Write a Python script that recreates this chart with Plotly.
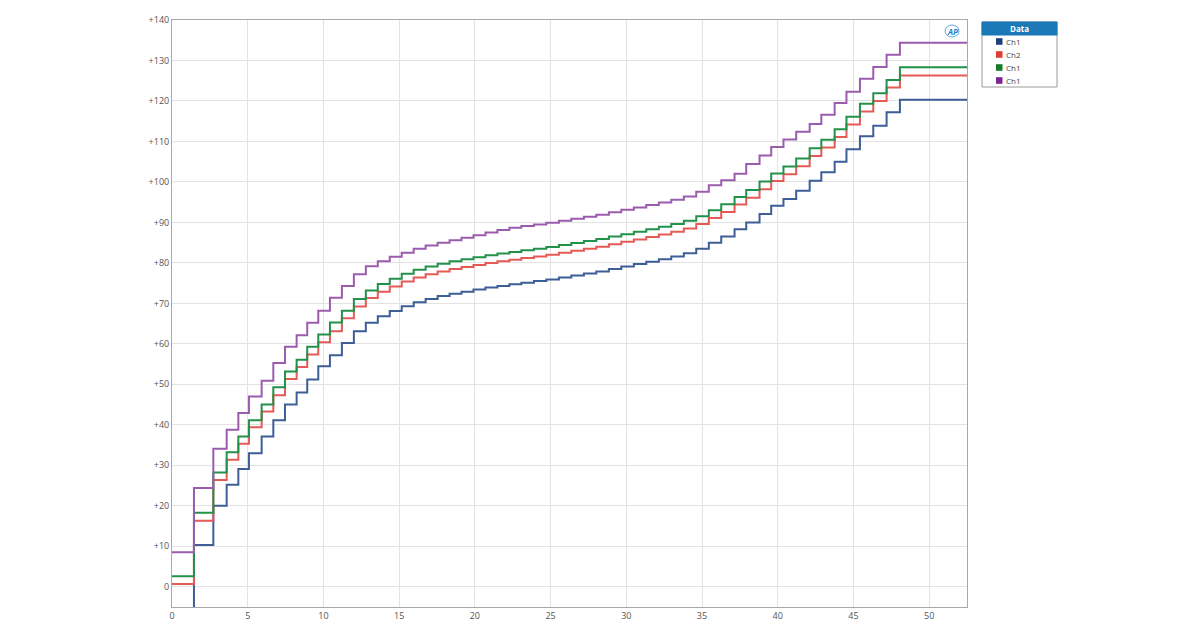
import plotly.graph_objects as go

# ---- data ----
step_times = [0, 1.45, 2.73, 3.61, 4.38, 5.08, 5.92, 6.69, 7.46, 8.23, 8.93, 9.66, 10.43,
              11.22, 12.01, 12.80, 13.59, 14.38, 15.17, 15.96, 16.75, 17.54, 18.33, 19.12,
              19.91, 20.70, 21.49, 22.28, 23.07, 23.90, 24.72, 25.55, 26.37, 27.20, 28.02,
              28.85, 29.67, 30.50, 31.32, 32.15, 32.97, 33.80, 34.62, 35.45, 36.27, 37.15,
              37.92, 38.80, 39.57, 40.38, 41.22, 42.11, 42.88, 43.76, 44.54, 45.43, 46.31,
              47.19, 48.07, 52.5]

ch1_blue = [-7.0, 10.3, 20.0, 25.2, 29.1, 33.0, 37.1, 41.1, 45.0, 48.0, 51.2, 54.5, 57.2,
            60.2, 63.1, 65.2, 66.8, 68.1, 69.3, 70.3, 71.1, 71.8, 72.4, 72.9,
            73.4, 73.9, 74.3, 74.7, 75.1, 75.5, 75.9, 76.4, 76.9, 77.4, 77.9,
            78.5, 79.1, 79.7, 80.3, 80.9, 81.6, 82.4, 83.5, 85.0, 86.5, 88.3,
            90.0, 92.1, 94.1, 95.8, 97.8, 100.3, 102.4, 105.0, 108.1, 111.3, 113.9,
            117.2, 120.3, 120.3]

ch2_red = [0.7, 16.3, 26.4, 31.4, 35.3, 39.4, 43.3, 47.3, 51.3, 54.3, 57.4, 60.4, 63.1,
           66.3, 69.2, 71.3, 72.9, 74.2, 75.4, 76.4, 77.2, 77.9, 78.5, 79.0,
           79.5, 80.0, 80.4, 80.8, 81.2, 81.6, 82.0, 82.5, 83.0, 83.5, 84.0,
           84.6, 85.2, 85.8, 86.4, 87.0, 87.7, 88.5, 89.6, 91.1, 92.6, 94.4,
           96.1, 98.2, 100.2, 101.9, 103.9, 106.4, 108.5, 111.1, 114.2, 117.4, 120.0,
           123.3, 126.3, 126.3]

ch1_green = [2.6, 18.3, 28.2, 33.2, 37.1, 41.1, 45.0, 49.3, 53.2, 56.1, 59.3, 62.3, 65.3,
             68.2, 71.1, 73.2, 74.8, 76.1, 77.3, 78.3, 79.1, 79.8, 80.4, 80.9,
             81.4, 81.9, 82.3, 82.7, 83.1, 83.5, 83.9, 84.4, 84.9, 85.4, 85.9,
             86.5, 87.1, 87.7, 88.3, 88.9, 89.6, 90.4, 91.5, 93.0, 94.5, 96.3,
             98.0, 100.1, 102.1, 103.8, 105.8, 108.3, 110.4, 113.0, 116.1, 119.3, 121.9,
             125.2, 128.3, 128.3]

ch1_purple = [8.5, 24.4, 34.1, 38.8, 42.9, 47.0, 50.9, 55.3, 59.3, 62.1, 65.2, 68.2, 71.4,
              74.3, 77.2, 79.2, 80.4, 81.5, 82.5, 83.5, 84.3, 85.0, 85.6, 86.2,
              86.8, 87.5, 88.1, 88.7, 89.1, 89.5, 89.9, 90.4, 90.9, 91.4, 91.9,
              92.5, 93.1, 93.7, 94.3, 94.9, 95.6, 96.4, 97.6, 99.2, 100.4, 102.0,
              104.4, 106.5, 108.6, 110.5, 112.4, 114.3, 116.6, 119.5, 122.3, 125.5, 128.4,
              131.4, 134.4, 134.4]

series_names = ["Ch1", "Ch2", "Ch1", "Ch1"]
legend_title = "Data"
x_ticks = [0, 5, 10, 15, 20, 25, 30, 35, 40, 45, 50]
y_ticks = [0, 10, 20, 30, 40, 50, 60, 70, 80, 90, 100, 110, 120, 130, 140]
y_ticklabels = ["0"] + ["+%d" % v for v in y_ticks[1:]]

line_colors = ["#3d5e96", "#e65a55", "#22914a", "#9b5cae"]
swatch_colors = ["#1f3f7c", "#e03a34", "#157a2c", "#7d2392"]

# ---- layout geometry ----
W, H = 1200, 628
ML, MR, MT, MB = 172, 233, 20, 21
PW, PH = W - ML - MR, H - MT - MB


def px(x):
    return (x - ML) / PW


def py(y):
    return (H - MB - y) / PH


fig = go.Figure()
for name, vals, col in zip(series_names, [ch1_blue, ch2_red, ch1_green, ch1_purple], line_colors):
    fig.add_trace(go.Scatter(x=step_times, y=vals, mode="lines", name=name,
                             line=dict(color=col, width=2, shape="hv"),
                             showlegend=False, hoverinfo="skip"))

axis_common = dict(showgrid=True, gridcolor="#e3e3e3", gridwidth=1, zeroline=False,
                   showline=True, linecolor="#a8a8a8", linewidth=1, mirror=True,
                   automargin=False, ticks="",
                   tickfont=dict(family="Open Sans, sans-serif", size=9, color="#555555"))

fig.update_xaxes(range=[0, 52.5], tickvals=x_ticks, ticktext=[str(v) for v in x_ticks], **axis_common)
fig.update_yaxes(range=[-5, 140], tickvals=y_ticks, ticktext=y_ticklabels, **axis_common)

shapes = []
annotations = []
# legend box
bx0, bx1, by0, by1 = 982, 1057, 22, 87
shapes.append(dict(type="rect", xref="paper", yref="paper", x0=px(bx0), x1=px(bx1),
                   y0=py(by1), y1=py(by0), line=dict(color="#9a9a9a", width=1), fillcolor="white"))
shapes.append(dict(type="rect", xref="paper", yref="paper", x0=px(bx0), x1=px(bx1),
                   y0=py(35), y1=py(by0), line=dict(color="#1a78b6", width=1), fillcolor="#1a78b6"))
annotations.append(dict(xref="paper", yref="paper", x=px((bx0 + bx1) / 2), y=py(28.5),
                        text="<b>%s</b>" % legend_title, showarrow=False,
                        font=dict(family="Open Sans, sans-serif", size=8, color="white"),
                        xanchor="center", yanchor="middle"))
item_y = [41.5, 54.5, 67.5, 80.5]
for yy, name, sc in zip(item_y, series_names, swatch_colors):
    shapes.append(dict(type="rect", xref="paper", yref="paper", x0=px(996), x1=px(1002.5),
                       y0=py(yy + 3.3), y1=py(yy - 3.3), line=dict(width=0), fillcolor=sc))
    annotations.append(dict(xref="paper", yref="paper", x=px(1004), y=py(yy), text=name,
                            showarrow=False, xanchor="left", yanchor="middle",
                            font=dict(family="Open Sans, sans-serif", size=8, color="#444444")))

# AP logo
shapes.append(dict(type="circle", xref="paper", yref="paper", x0=px(945), x1=px(959),
                   y0=py(37), y1=py(25), line=dict(color="#5aa9e0", width=1)))
annotations.append(dict(xref="paper", yref="paper", x=px(952), y=py(31), text="<b><i>AP</i></b>",
                        showarrow=False, xanchor="center", yanchor="middle",
                        font=dict(family="Open Sans, sans-serif", size=8, color="#1f7fc8")))

fig.update_layout(width=W, height=H, margin=dict(l=ML, r=MR, t=MT, b=MB, pad=0),
                  plot_bgcolor="white", paper_bgcolor="white", showlegend=False,
                  shapes=shapes, annotations=annotations)

fig.write_html("out.html", config={"displayModeBar": False},
               post_script="document.body.style.margin='0';")
